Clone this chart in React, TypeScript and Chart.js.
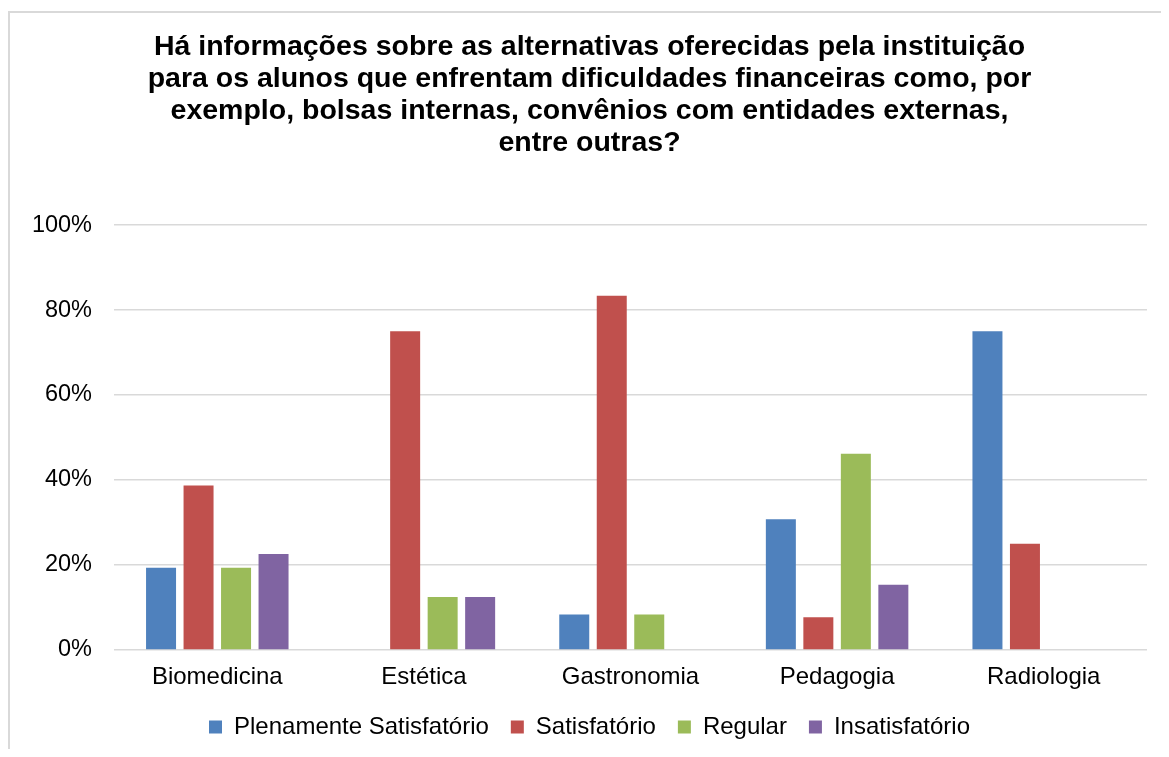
import React, { useEffect, useRef } from "react";
import { Chart, registerables } from "chart.js";

Chart.register(...registerables);

const titleLines = [
  "Há informações sobre as alternativas oferecidas pela instituição",
  "para os alunos que enfrentam dificuldades financeiras como, por",
  "exemplo, bolsas internas, convênios com entidades externas,",
  "entre outras?",
];

const categories = ["Biomedicina", "Estética", "Gastronomia", "Pedagogia", "Radiologia"];

const plenamenteSatisfatorio = [19.35, 0, 8.33, 30.77, 75];
const satisfatorio = [38.71, 75, 83.33, 7.69, 25];
const regular = [19.35, 12.5, 8.33, 46.15, 0];
const insatisfatorio = [22.58, 12.5, 0, 15.38, 0];

const seriesNames = ["Plenamente Satisfatório", "Satisfatório", "Regular", "Insatisfatório"];
const seriesColors = ["#4F81BD", "#C0504D", "#9BBB59", "#8064A2"];

const yTicks = [0, 20, 40, 60, 80, 100];

export default function App() {
  const canvasRef = useRef<HTMLCanvasElement | null>(null);

  useEffect(() => {
    if (!canvasRef.current) return;
    Chart.defaults.font.family = "'Liberation Sans', Arial, sans-serif";
    const seriesData = [plenamenteSatisfatorio, satisfatorio, regular, insatisfatorio];
    const chart = new Chart(canvasRef.current, {
      type: "bar",
      data: {
        labels: categories,
        datasets: seriesNames.map((name, i) => ({
          label: name,
          data: seriesData[i],
          backgroundColor: seriesColors[i],
          borderWidth: 0,
          categoryPercentage: 0.726,
          barPercentage: 0.8,
        })),
      },
      options: {
        responsive: false,
        animation: false,
        layout: { padding: { left: 22, right: 14, top: 0, bottom: 0 } },
        plugins: {
          title: {
            display: true,
            text: titleLines,
            color: "#000",
            font: { size: 28.5, weight: "bold", lineHeight: 1.123 },
            padding: { top: 18, bottom: 66 },
          },
          legend: {
            display: true,
            position: "bottom",
            labels: {
              boxWidth: 13,
              boxHeight: 13,
              color: "#000",
              font: { size: 24 },
              padding: 22,
            },
          },
          tooltip: { enabled: false },
        },
        scales: {
          x: {
            grid: { display: false, drawTicks: false },
            border: { display: false },
            ticks: { color: "#000", font: { size: 24 }, padding: 13 },
            afterFit: (scale: any) => {
              scale.height = 43;
            },
          },
          y: {
            min: 0,
            max: 100,
            afterBuildTicks: (scale: any) => {
              scale.ticks = yTicks.map((v) => ({ value: v }));
            },
            grid: { color: "#d9d9d9", lineWidth: 1.5, drawTicks: false },
            border: { display: false },
            ticks: {
              color: "#000",
              font: { size: 23.5 },
              padding: 22,
              callback: (v: any) => v + "%",
            },
            afterFit: (scale: any) => {
              scale.width = 82;
            },
          },
        },
      },
    });
    return () => chart.destroy();
  }, []);

  return (
    <div style={{ paddingTop: 3 }}>
      <div
        style={{
          width: 1153,
          height: 738,
          boxSizing: "border-box",
          borderLeft: "2px solid #d9d9d9",
          borderTop: "2px solid #d9d9d9",
          overflow: "hidden",
        }}
      >
        <canvas ref={canvasRef} width={1151} height={736} style={{ display: "block" }} />
      </div>
    </div>
  );
}
